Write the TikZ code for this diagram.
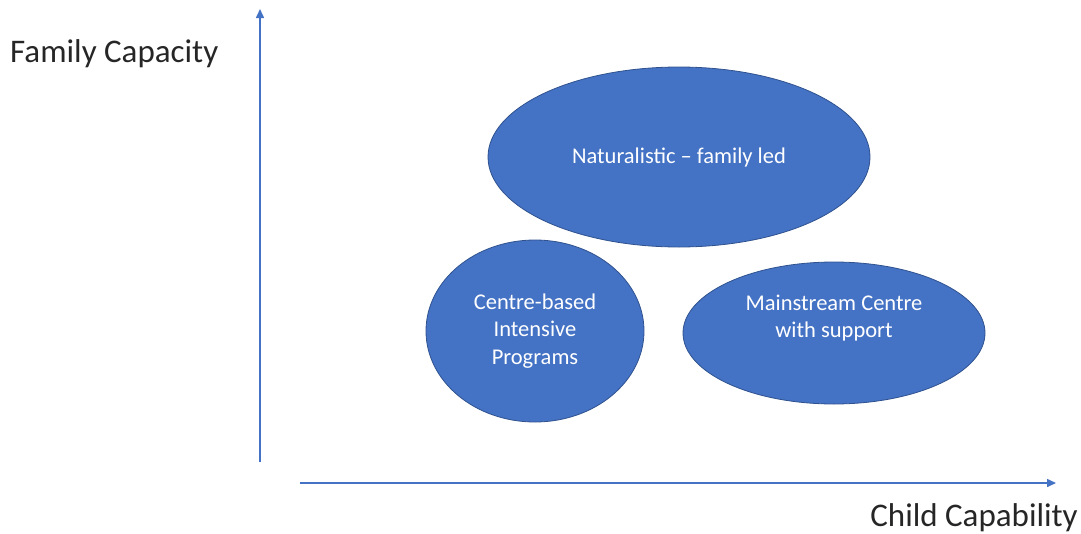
\documentclass[tikz,border=0pt]{standalone}
\usepackage{fontspec}
\setmainfont{Carlito}
\usetikzlibrary{shapes.geometric,arrows.meta}
\definecolor{bluefill}{HTML}{4472C4}
\definecolor{blueedge}{HTML}{2F528F}
\definecolor{labelgray}{HTML}{262626}
\tikzset{
  blob/.style={ellipse, fill=bluefill, draw=blueedge, line width=0.8pt, inner sep=0pt},
  blobtext/.style={text=white, align=center, inner sep=0pt, font=\fontsize{22.5}{27.5}\selectfont},
  axis/.style={draw=bluefill, line width=1.5pt, -{Triangle[length=9pt,width=8pt]}},
  axislabel/.style={text=labelgray, font=\fontsize{33}{38}\selectfont, inner sep=0pt}
}
\begin{document}
\begin{tikzpicture}[x=1pt,y=-1pt]
\useasboundingbox (0,0) rectangle (1081,533);
\coordinate (ybot) at (260,462);
\coordinate (ytop) at (260,9);
\coordinate (xleft) at (300,483);
\coordinate (xright) at (1056,483);
\draw[axis] (ybot) -- (ytop);
\draw[axis] (xleft) -- (xright);
\node[axislabel, anchor=west] (fc) at (10,54) {Family Capacity};
\node[axislabel, anchor=east] (cc) at (1078,518) {Child Capability};
\node[blob, minimum width=382pt, minimum height=180pt] (nat) at (679,157) {};
\node[blobtext] (nattext) at (nat.center) {Naturalistic – family led};
\node[blob, minimum width=218pt, minimum height=182pt] (cbi) at (535,331) {};
\node[blobtext] (cbitext) at (cbi.center) {Centre-based\\Intensive\\Programs};
\node[blob, minimum width=302pt, minimum height=142pt] (msc) at (834,333) {};
\node[blobtext] (msctext) at ([yshift=15pt]msc.center) {Mainstream Centre\\with support};
\end{tikzpicture}
\end{document}
